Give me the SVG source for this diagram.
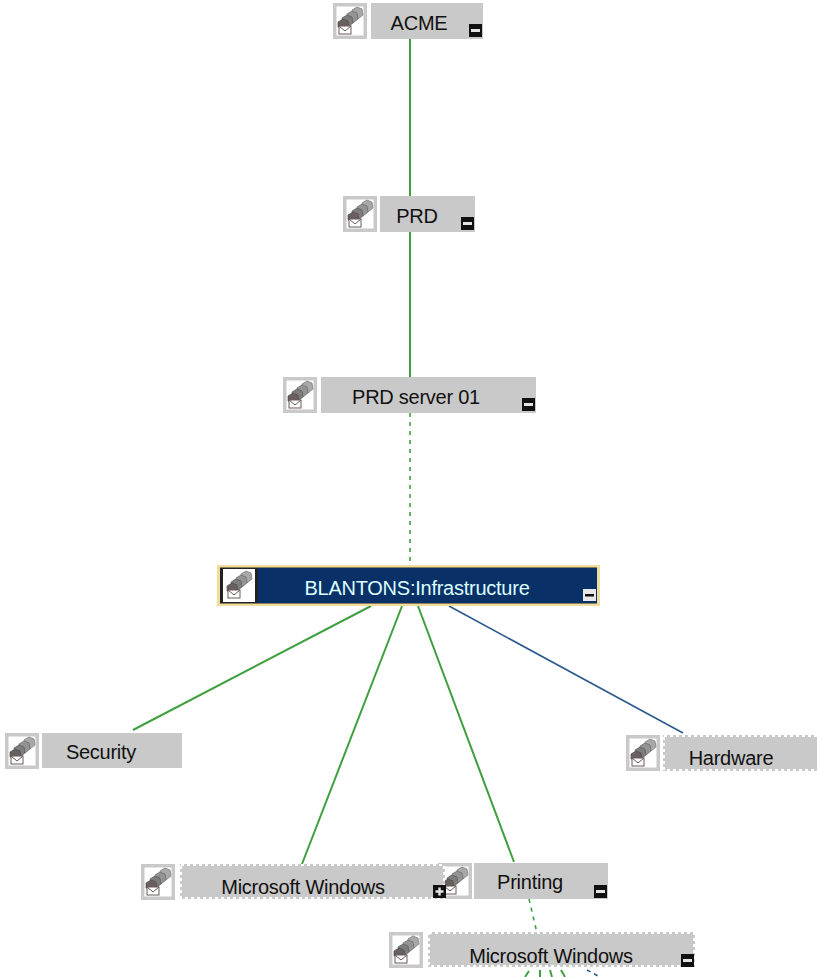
<svg xmlns="http://www.w3.org/2000/svg" width="817" height="977" viewBox="0 0 817 977">
<style>
text{font-family:"Liberation Sans",Arial,sans-serif;font-size:20px;fill:#111;text-anchor:middle;letter-spacing:-.25px}
.lab{fill:#c9c9c9}
.dot{fill:none;stroke:#fff;stroke-width:2;stroke-dasharray:3 3}
.ib{fill:#c9c9c9}
.g{fill:none;stroke:#3f9f3f;stroke-width:2}
.gd{fill:none;stroke:#3f9f3f;stroke-width:1.6;stroke-dasharray:4 5}
.b{fill:none;stroke:#2d5a8c;stroke-width:1.6}
.bd{fill:none;stroke:#2d5a8c;stroke-width:1.6;stroke-dasharray:4 4}
</style>
<defs>
<g id="art">
<path d="M19 7l5-3 5 2 1 6-5 4-5-3z" fill="#a8a8a8" stroke="#777" stroke-width=".7"/>
<path d="M14 11l5-3 5 2 1 6-5 4-5-3z" fill="#949494" stroke="#666" stroke-width=".7"/>
<path d="M9 15l5-3 5 2 1 6-5 4-5-3z" fill="#7d7d7d" stroke="#5a5a5a" stroke-width=".7"/>
<path d="M5 19l5-3 5 2 1 5-6 2-5-1z" fill="#6a5f5f" stroke="#4d4d4d" stroke-width=".7"/>
<rect x="6" y="23" width="12" height="8" fill="#fff" stroke="#6a5a5a"/>
<path d="M6 23l6 5 6-5" fill="none" stroke="#6a5a5a"/>
</g>
<g id="icon">
<rect width="34" height="36" class="ib"/>
<rect x="3.500" y="3.500" width="27" height="29" fill="#fff"/>
<use href="#art"/>
</g>
<g id="minus"><rect width="13" height="13" fill="#111"/><rect x="2" y="5" width="9" height="3" fill="#e4e4e4"/></g>
<g id="plus"><rect width="13" height="13" fill="#111"/><path d="M2.500 6.500h8M6.500 2.500v8" stroke="#e4e4e4" stroke-width="2.500"/></g>
</defs>
<rect width="817" height="977" fill="#fff"/>
<g id="connectors">
<path class="g" d="M410 39V196M410 232V377"/>
<path class="gd" d="M410 413V565M529 899L537 933"/>
<path class="g" d="M371 606L133 730M402 606L302 864M418 606L514 862"/>
<path class="b" d="M449 606L683 733"/>
<path class="g" d="M529 971L525 977M540 970V977M550 970L552 977M561 970L565 977" stroke-width="1.600"/>
<path class="bd" d="M587 970L600 977"/>
</g>
<g id="node-acme">
<use href="#icon" x="333" y="3"/>
<rect class="lab" x="371" y="3" width="112" height="36"/>
<text x="419" y="30">ACME</text>
<use href="#minus" x="469" y="24"/>
</g>
<g id="node-prd">
<use href="#icon" x="343" y="196"/>
<rect class="lab" x="380" y="196" width="95" height="36"/>
<text x="417" y="223">PRD</text>
<use href="#minus" x="461" y="217"/>
</g>
<g id="node-prd-server">
<use href="#icon" x="283" y="377"/>
<rect class="lab" x="321" y="377" width="215" height="36"/>
<text x="416" y="404">PRD server 01</text>
<use href="#minus" x="522" y="398"/>
</g>
<g id="node-blantons">
<rect x="217" y="565" width="383" height="41" fill="#f0dc9c"/>
<rect x="220" y="567.500" width="377" height="36" fill="#222"/>
<rect x="258" y="568" width="339" height="35" fill="#0a3068"/>
<rect x="223" y="569" width="32" height="33" fill="#fff"/>
<use href="#art" x="222" y="567"/>
<text x="417" y="595" style="fill:#dff">BLANTONS:Infrastructure</text>
<rect x="583" y="589" width="13" height="12" fill="#e8e8e8"/><rect x="585" y="594" width="9" height="2.500" fill="#111"/>
</g>
<g id="node-security">
<use href="#icon" x="5" y="733"/>
<rect class="lab" x="42" y="733" width="140" height="35"/>
<text x="101" y="759">Security</text>
</g>
<g id="node-hardware">
<use href="#icon" x="626" y="735"/>
<rect class="lab" x="663" y="735" width="154" height="36"/>
<rect class="dot" x="664" y="736" width="154" height="34"/>
<text x="731" y="765">Hardware</text>
</g>
<g id="node-printing">
<use href="#icon" x="438" y="863"/>
<rect class="lab" x="474" y="863" width="134" height="36"/>
<text x="530" y="889">Printing</text>
<use href="#minus" x="594" y="885"/>
</g>
<g id="node-windows-1">
<use href="#icon" x="141" y="864"/>
<rect class="lab" x="180" y="864" width="265" height="35"/>
<rect class="dot" x="181" y="865" width="263" height="33"/>
<text x="303" y="894">Microsoft Windows</text>
<use href="#plus" x="433" y="885"/>
</g>
<g id="node-windows-2">
<use href="#icon" x="389" y="932"/>
<rect class="lab" x="428" y="932" width="267" height="35"/>
<rect class="dot" x="429" y="933" width="265" height="33"/>
<text x="551" y="963">Microsoft Windows</text>
<use href="#minus" x="681" y="954"/>
</g>
</svg>
